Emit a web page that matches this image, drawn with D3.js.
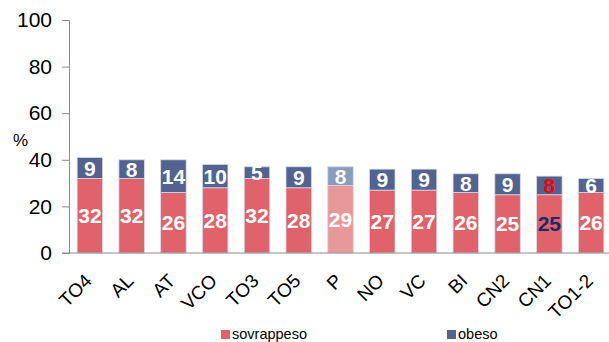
<!DOCTYPE html>
<html>
<head>
<meta charset="utf-8">
<script src="https://cdn.jsdelivr.net/npm/d3@7/dist/d3.min.js"></script>
<style>
  html, body { margin: 0; padding: 0; background: #fff; }
  svg { display: block; font-family: "Liberation Sans", Arial, sans-serif; }
</style>
</head>
<body>
<svg id="chart" width="609" height="342"></svg>
<script>
// Areas (x categories)
const categories = ["TO4", "AL", "AT", "VCO", "TO3", "TO5", "P", "NO", "VC", "BI", "CN2", "CN1", "TO1-2"];
// Percentages per area
const sovrappeso = [32, 32, 26, 28, 32, 28, 29, 27, 27, 26, 25, 25, 26];
const obeso = [9, 8, 14, 10, 5, 9, 8, 9, 9, 8, 9, 8, 6];
const seriesNames = ["sovrappeso", "obeso"];
const yTicks = [0, 20, 40, 60, 80, 100];

const colors = { sovrappeso: "#E0626A", obeso: "#52638F" };
const softColors = { sovrappeso: "#E99899", obeso: "#8B9BBB" };
const highlight = "P";
const labelColors = { CN1: { sovrappeso: "#1B2A6B", obeso: "#FF0000" } };

const svg = d3.select("#chart");
const plotBottom = 253, plotTop = 20;

const x = d3.scaleBand().domain(categories).range([69, 612]).paddingInner(0.39).paddingOuter(0.195);
const y = d3.scaleLinear().domain([0, 100]).range([plotBottom, plotTop]);

const rows = categories.map((c, i) => ({ cat: c, sovrappeso: sovrappeso[i], obeso: obeso[i] }));
const stacked = d3.stack().keys(seriesNames)(rows);

// bars
const g = svg.append("g");
stacked.forEach(layer => {
  const key = layer.key;
  g.selectAll(null).data(layer).enter().append("rect")
    .attr("x", d => x(d.data.cat))
    .attr("width", x.bandwidth())
    .attr("y", d => y(d[1]))
    .attr("height", d => y(d[0]) - y(d[1]))
    .attr("fill", d => d.data.cat === highlight ? softColors[key] : colors[key])
    .attr("stroke", "#d6d9e8")
    .attr("stroke-width", 0.8);
});

// value labels
stacked.forEach(layer => {
  const key = layer.key;
  g.selectAll(null).data(layer).enter().append("text")
    .attr("x", d => x(d.data.cat) + x.bandwidth() / 2)
    .attr("y", d => (y(d[0]) + y(d[1])) / 2)
    .attr("dy", "0.36em")
    .attr("text-anchor", "middle")
    .attr("font-size", 21)
    .attr("font-weight", "bold")
    .attr("fill", d => (labelColors[d.data.cat] && labelColors[d.data.cat][key]) || "#fff")
    .text(d => d.data[key]);
});

// y axis
const yAxis = d3.axisLeft(y).tickValues(yTicks).tickSize(7).tickPadding(10);
const ya = svg.append("g").attr("transform", "translate(69,0)").call(yAxis);
ya.select(".domain").attr("stroke", "#8c8c8c");
ya.selectAll(".tick line").attr("stroke", "#8c8c8c");
ya.selectAll(".tick text").attr("font-size", 21).attr("fill", "#000")
  .attr("font-family", "Liberation Sans, Arial, sans-serif");

// x axis line
svg.append("line").attr("x1", 62).attr("x2", 609).attr("y1", plotBottom).attr("y2", plotBottom)
  .attr("stroke", "#8c8c8c");

// x labels, rotated
svg.append("g").selectAll("text").data(categories).enter().append("text")
  .attr("transform", d => `translate(${x(d) + x.bandwidth() / 2 + 3},282) rotate(-45)`)
  .attr("text-anchor", "end")
  .attr("font-size", 19)
  .attr("fill", "#000")
  .text(d => d);

// y title
svg.append("text").attr("x", 13).attr("y", 146).attr("font-size", 17).text("%");

// legend
const legend = [
  { name: "sovrappeso", x: 221 },
  { name: "obeso", x: 447 }
];
const lg = svg.append("g");
legend.forEach(l => {
  lg.append("rect").attr("x", l.x).attr("y", 330).attr("width", 9).attr("height", 9).attr("fill", colors[l.name]);
  lg.append("text").attr("x", l.x + 11).attr("y", 339).attr("font-size", 14.5).attr("fill", "#000").text(l.name);
});
</script>
</body>
</html>
